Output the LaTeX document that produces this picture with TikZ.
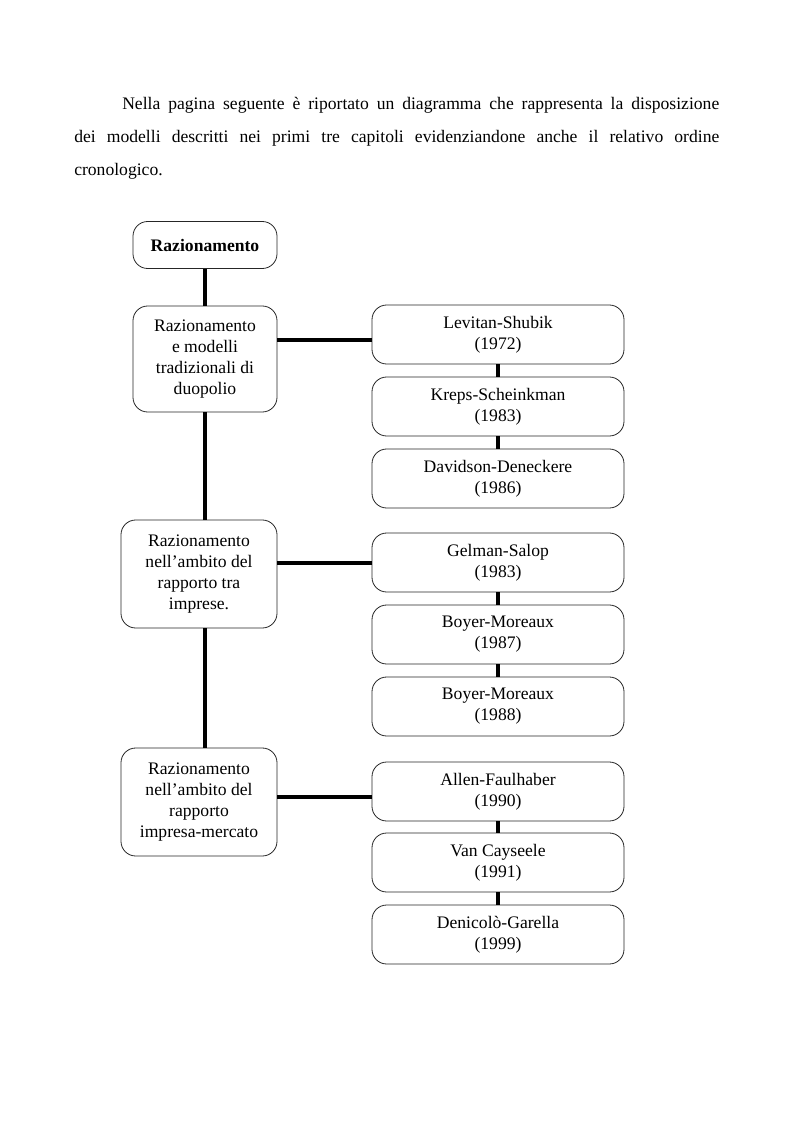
\documentclass[tikz,border=0pt]{standalone}
\usepackage{fontspec}
\setmainfont{Liberation Serif}
\begin{document}
\begin{tikzpicture}[x=0.75pt,y=-0.75pt,
  box/.style={draw=black!85, line width=0.6pt, rounded corners=11pt, fill=white,
    align=center, inner sep=0pt, font=\fontsize{13.2}{15.75}\selectfont},
  rbox/.style={box, minimum width=252*0.75pt, minimum height=59*0.75pt},
  conn/.style={line width=2.8pt, black}]
\useasboundingbox (0,0) rectangle (793,1123);
% paragraph
\node[anchor=north west, inner sep=0pt, text width=645*0.75pt, align=justify,
      font=\fontsize{13.2}{24.75}\selectfont] (par) at (74,97)
 {\hspace*{36pt}Nella pagina seguente è riportato un diagramma che rappresenta la disposizione\linebreak
  dei modelli descritti nei primi tre capitoli evidenziandone anche il relativo ordine\linebreak
  cronologico.};
% left column
\node[box, minimum width=144*0.75pt, minimum height=47*0.75pt, font=\fontsize{13.2}{15.75}\selectfont\bfseries] (top) at (205,245) {Razionamento};
\node[box, minimum width=144*0.75pt, minimum height=106*0.75pt] (L1) at (205,359)
  {Razionamento\\e modelli\\tradizionali di\\duopolio};
\node[box, minimum width=156*0.75pt, minimum height=108*0.75pt] (L2) at (199,574)
  {Razionamento\\nell’ambito del\\rapporto tra\\imprese.};
\node[box, minimum width=156*0.75pt, minimum height=108*0.75pt] (L3) at (199,802)
  {Razionamento\\nell’ambito del\\rapporto\\impresa-mercato};
% right column
\node[rbox] (R1) at (498,334.5) {Levitan-Shubik\\(1972)};
\node[rbox] (R2) at (498,406.5) {Kreps-Scheinkman\\(1983)};
\node[rbox] (R3) at (498,478.5) {Davidson-Deneckere\\(1986)};
\node[rbox] (R4) at (498,562.5) {Gelman-Salop\\(1983)};
\node[rbox] (R5) at (498,634.5) {Boyer-Moreaux\\(1987)};
\node[rbox] (R6) at (498,706.5) {Boyer-Moreaux\\(1988)};
\node[rbox] (R7) at (498,791.5) {Allen-Faulhaber\\(1990)};
\node[rbox] (R8) at (498,862.5) {Van Cayseele\\(1991)};
\node[rbox] (R9) at (498,934.5) {Denicolò-Garella\\(1999)};
% connectors
\draw[conn] (top.south) -- (L1.north);
\draw[conn] (L1.south) -- (L1.south |- L2.north);
\draw[conn] (L1.south |- L2.south) -- (L1.south |- L3.north);
\draw[conn] (L1.east |- 0,340) -- (R1.west |- 0,340);
\draw[conn] (L2.east |- 0,563) -- (R4.west |- 0,563);
\draw[conn] (L3.east |- 0,797) -- (R7.west |- 0,797);
\draw[conn] (R1.south) -- (R2.north);
\draw[conn] (R2.south) -- (R3.north);
\draw[conn] (R4.south) -- (R5.north);
\draw[conn] (R5.south) -- (R6.north);
\draw[conn] (R7.south) -- (R8.north);
\draw[conn] (R8.south) -- (R9.north);
\end{tikzpicture}
\end{document}
